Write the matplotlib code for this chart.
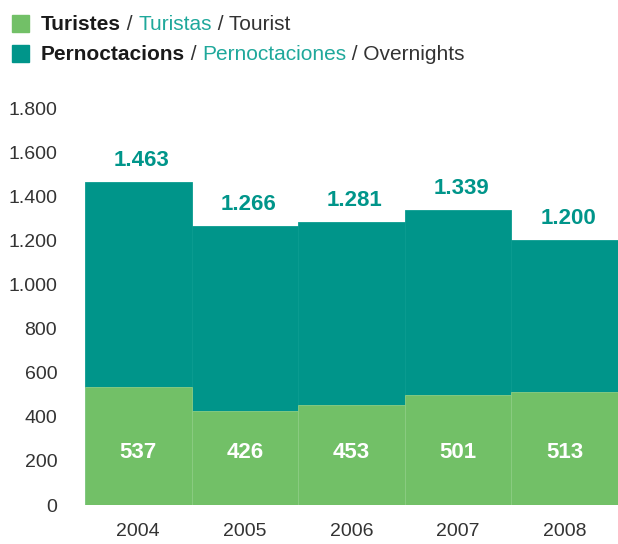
import matplotlib.pyplot as plt
import numpy as np

plt.rcParams['font.family'] = ['Liberation Sans', 'DejaVu Sans']

years = ['2004', '2005', '2006', '2007', '2008']
overnights = [1463, 1266, 1281, 1339, 1200]
tourists = [537, 426, 453, 501, 513]
yticks = [0, 200, 400, 600, 800, 1000, 1200, 1400, 1600, 1800]
ytick_labels = ['0', '200', '400', '600', '800', '1.000', '1.200', '1.400', '1.600', '1.800']

green = '#72c067'
teal = '#00958a'
dark = '#333333'

fig = plt.figure(figsize=(6.18, 5.44), dpi=100)
ax = fig.add_axes([85 / 618, 39 / 544, 533 / 618, 397 / 544])

x = np.arange(len(years))
ax.bar(x, overnights, width=1.0, color=teal, edgecolor='#0a9c90', linewidth=0.6)
ax.bar(x, tourists, width=1.0, color=green, edgecolor='#8dcd83', linewidth=0.6)

for i in range(len(years)):
    ax.annotate(f'{overnights[i] / 1000:.3f}', xy=(x[i], overnights[i]), xytext=(2.5, 8),
                textcoords='offset points', ha='center', va='bottom',
                fontsize=16, fontweight='bold', color=teal)
    ax.text(x[i], 238, str(tourists[i]), ha='center', va='center',
            fontsize=16, fontweight='bold', color='white')

ax.set_xlim(-0.5, len(years) - 0.5)
ax.set_ylim(0, 1800)
ax.set_yticks(yticks)
ax.set_yticklabels(ytick_labels)
ax.set_xticks(x)
ax.set_xticklabels(years)
ax.tick_params(length=0, labelsize=14, colors=dark)
ax.tick_params(axis='y', pad=20)
ax.tick_params(axis='x', pad=13)
for s in ax.spines.values():
    s.set_visible(False)

# legend built from coloured text pieces
fig.patches.append(plt.Rectangle((12 / 618, 1 - 32 / 544), 17 / 618, 17 / 544,
                                 transform=fig.transFigure, color=green))
fig.patches.append(plt.Rectangle((12 / 618, 1 - 62 / 544), 17 / 618, 17 / 544,
                                 transform=fig.transFigure, color=teal))

renderer = fig.canvas.get_renderer()
rows = [
    (24, [('Turistes', 'bold', '#1a1a1a'), (' / ', 'normal', dark),
          ('Turistas', 'normal', '#1fa89b'), (' / Tourist', 'normal', dark)]),
    (54, [('Pernoctacions', 'bold', '#1a1a1a'), (' / ', 'normal', dark),
          ('Pernoctaciones', 'normal', '#1fa89b'), (' / Overnights', 'normal', dark)]),
]
for ypix, parts in rows:
    xpix = 41
    for txt, weight, col in parts:
        t = fig.text(xpix / 618, 1 - ypix / 544, txt, fontsize=15, fontweight=weight,
                     color=col, va='center', ha='left')
        bb = t.get_window_extent(renderer=renderer)
        xpix += bb.width

fig.savefig('out.png', dpi=100)
